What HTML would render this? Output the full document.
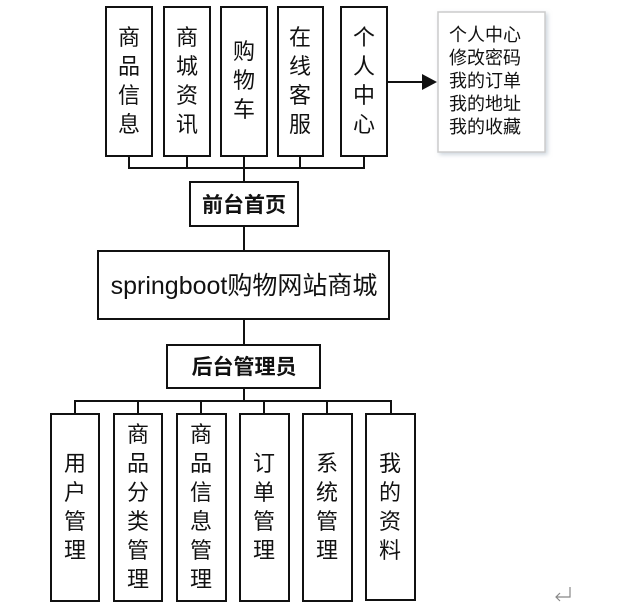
<!DOCTYPE html>
<html><head><meta charset="utf-8"><style>
html,body{margin:0;padding:0;background:#fff;width:632px;height:614px;overflow:hidden}
text{font-family:"Liberation Sans","Noto Sans CJK SC",sans-serif;fill:#111}
</style></head><body>
<svg width="632" height="614" viewBox="0 0 632 614" xmlns="http://www.w3.org/2000/svg">
<defs><filter id="sh" x="-10%" y="-10%" width="130%" height="130%"><feDropShadow dx="2" dy="2" stdDeviation="2" flood-color="#9ab" flood-opacity="0.5"/></filter></defs>
<g fill="#fff" stroke="#111" stroke-width="2">
<rect x="106" y="7" width="46" height="149"/>
<rect x="164" y="7" width="46" height="149"/>
<rect x="221" y="7" width="46" height="149"/>
<rect x="278" y="7" width="45" height="149"/>
<rect x="341" y="7" width="46" height="149"/>
<rect x="190" y="182" width="108" height="44"/>
<rect x="98" y="251" width="291" height="68"/>
<rect x="167" y="345" width="153" height="43"/>
<rect x="51" y="414" width="48" height="187"/>
<rect x="114" y="414" width="48" height="187"/>
<rect x="177" y="414" width="49" height="187"/>
<rect x="240" y="414" width="49" height="187"/>
<rect x="303" y="414" width="49" height="187"/>
<rect x="366" y="414" width="49" height="186"/>
</g>
<g stroke="#111" stroke-width="2" fill="none">
<path d="M129 156V168H364V156M187 156V168M244 156V182M300 156V168"/>
<path d="M244 226V251M244 319V345M244 388V401"/>
<path d="M75 414V401H391V414M138 401V414M201 401V414M264 401V414M327 401V414"/>
<path d="M387 82H424"/>
</g>
<path d="M422 74L437 82L422 90Z" fill="#111"/>
<rect x="438" y="12" width="107" height="140" fill="#fff" stroke="#ccc" stroke-width="1.5" filter="url(#sh)"/>
<g font-size="22" text-anchor="middle">
<text x="129" y="45">商</text><text x="129" y="74">品</text><text x="129" y="103">信</text><text x="129" y="132">息</text>
<text x="187" y="45">商</text><text x="187" y="74">城</text><text x="187" y="103">资</text><text x="187" y="132">讯</text>
<text x="244" y="59">购</text><text x="244" y="88">物</text><text x="244" y="117">车</text>
<text x="300" y="45">在</text><text x="300" y="74">线</text><text x="300" y="103">客</text><text x="300" y="132">服</text>
<text x="364" y="45">个</text><text x="364" y="74">人</text><text x="364" y="103">中</text><text x="364" y="132">心</text>
<text x="75" y="471">用</text><text x="75" y="500">户</text><text x="75" y="529">管</text><text x="75" y="558">理</text>
<text x="138" y="442">商</text><text x="138" y="471">品</text><text x="138" y="500">分</text><text x="138" y="529">类</text><text x="138" y="558">管</text><text x="138" y="587">理</text>
<text x="201" y="442">商</text><text x="201" y="471">品</text><text x="201" y="500">信</text><text x="201" y="529">息</text><text x="201" y="558">管</text><text x="201" y="587">理</text>
<text x="264" y="471">订</text><text x="264" y="500">单</text><text x="264" y="529">管</text><text x="264" y="558">理</text>
<text x="327" y="471">系</text><text x="327" y="500">统</text><text x="327" y="529">管</text><text x="327" y="558">理</text>
<text x="390" y="471">我</text><text x="390" y="500">的</text><text x="390" y="529">资</text><text x="390" y="558">料</text>
<text x="244" y="212" font-weight="bold" font-size="21">前台首页</text>
<text x="244" y="294" font-size="25">springboot购物网站商城</text>
<text x="244" y="374" font-weight="bold" font-size="21">后台管理员</text>
</g>
<g font-size="18">
<text x="449" y="41">个人中心</text>
<text x="449" y="64">修改密码</text>
<text x="449" y="87">我的订单</text>
<text x="449" y="110">我的地址</text>
<text x="449" y="133">我的收藏</text>
</g>
<path d="M570 587V597H556M560 593L556 597L560 601" stroke="#888" stroke-width="1.2" fill="none"/>
</svg>
</body></html>
